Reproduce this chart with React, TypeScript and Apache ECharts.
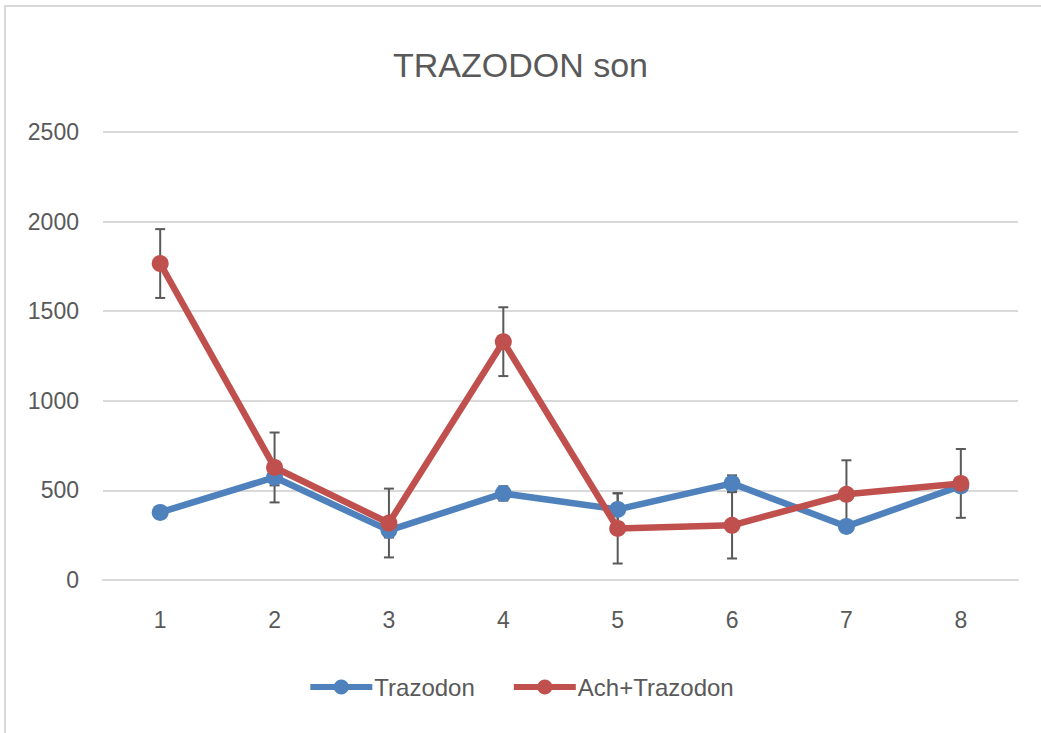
import React, { useEffect, useRef } from "react";
import * as echarts from "echarts";

const categories = ["1", "2", "3", "4", "5", "6", "7", "8"];
const trazodon = [377, 573, 277, 483, 394, 539, 299, 525];
const trazodonErr = [25, 45, 40, 40, 90, 45, 25, 30];
const achTrazodon = [1766, 628, 318, 1330, 288, 305, 478, 539];
const achTrazodonErr = [192, 195, 192, 192, 196, 185, 190, 192];
const seriesNames = ["Trazodon", "Ach+Trazodon"];
const titleText = "TRAZODON son";

const FONT = "'Liberation Sans', Arial, sans-serif";
const BLUE = "#4F81BD";
const RED = "#C0504D";
const GREY = "#595959";

function errorSeries(values: number[], errs: number[]) {
  const data = values.map((v, i) => [i, v - errs[i], v + errs[i]]);
  return {
    type: "custom",
    z: 1,
    silent: true,
    data,
    encode: { x: 0, y: [1, 2] },
    renderItem: (params: any, api: any) => {
      const x = api.value(0);
      const lo = api.coord([x, api.value(1)]);
      const hi = api.coord([x, api.value(2)]);
      const half = 5;
      const style = { stroke: GREY, lineWidth: 2 };
      return {
        type: "group",
        children: [
          { type: "line", shape: { x1: lo[0], y1: lo[1], x2: hi[0], y2: hi[1] }, style },
          { type: "line", shape: { x1: lo[0] - half, y1: lo[1], x2: lo[0] + half, y2: lo[1] }, style },
          { type: "line", shape: { x1: hi[0] - half, y1: hi[1], x2: hi[0] + half, y2: hi[1] }, style },
        ],
      };
    },
  };
}

export default function App() {
  const ref = useRef<HTMLDivElement>(null);
  useEffect(() => {
    if (!ref.current) return;
    const chart = echarts.init(ref.current, undefined, { renderer: "svg" });
    chart.setOption({
      animation: false,
      backgroundColor: "#ffffff",
      graphic: [
        {
          type: "rect",
          shape: { x: 5, y: 6, width: 1100, height: 800 },
          style: { fill: "none", stroke: "#D9D9D9", lineWidth: 2 },
          silent: true,
        },
      ],
      title: {
        text: titleText,
        left: "center",
        top: 43,
        textStyle: { fontFamily: FONT, fontSize: 34, fontWeight: "normal", color: GREY },
      },
      legend: {
        data: seriesNames,
        top: 670,
        left: "center",
        itemWidth: 62,
        itemHeight: 19,
        itemGap: 36,
        lineStyle: { width: 6 },
        textStyle: { fontFamily: FONT, fontSize: 24, color: GREY, padding: [0, 0, 0, -3] },
      },
      grid: { left: 103, right: 23, top: 132, bottom: 153, containLabel: false },
      xAxis: {
        type: "category",
        data: categories,
        boundaryGap: true,
        axisLine: { show: true, lineStyle: { color: "#D9D9D9", width: 2 } },
        axisTick: { show: false },
        axisLabel: { fontFamily: FONT, fontSize: 23, color: GREY, margin: 28 },
      },
      yAxis: {
        type: "value",
        min: 0,
        max: 2500,
        interval: 500,
        axisLine: { show: false },
        axisTick: { show: false },
        axisLabel: {
          fontFamily: FONT,
          fontSize: 23,
          color: GREY,
          margin: 24,
          formatter: (v: number) => String(v),
        },
        splitLine: { lineStyle: { color: "#D9D9D9", width: 2 } },
      },
      series: [
        errorSeries(trazodon, trazodonErr),
        errorSeries(achTrazodon, achTrazodonErr),
        {
          name: seriesNames[0],
          type: "line",
          z: 2,
          data: trazodon,
          symbol: "circle",
          symbolSize: 17,
          lineStyle: { color: BLUE, width: 6.5 },
          itemStyle: { color: BLUE },
        },
        {
          name: seriesNames[1],
          type: "line",
          z: 3,
          data: achTrazodon,
          symbol: "circle",
          symbolSize: 17,
          lineStyle: { color: RED, width: 6.5 },
          itemStyle: { color: RED },
        },
      ],
    });
    return () => chart.dispose();
  }, []);
  return (
    <div
      ref={ref}
      style={{ position: "absolute", left: 0, top: 0, width: 1041, height: 733 }}
    />
  );
}
